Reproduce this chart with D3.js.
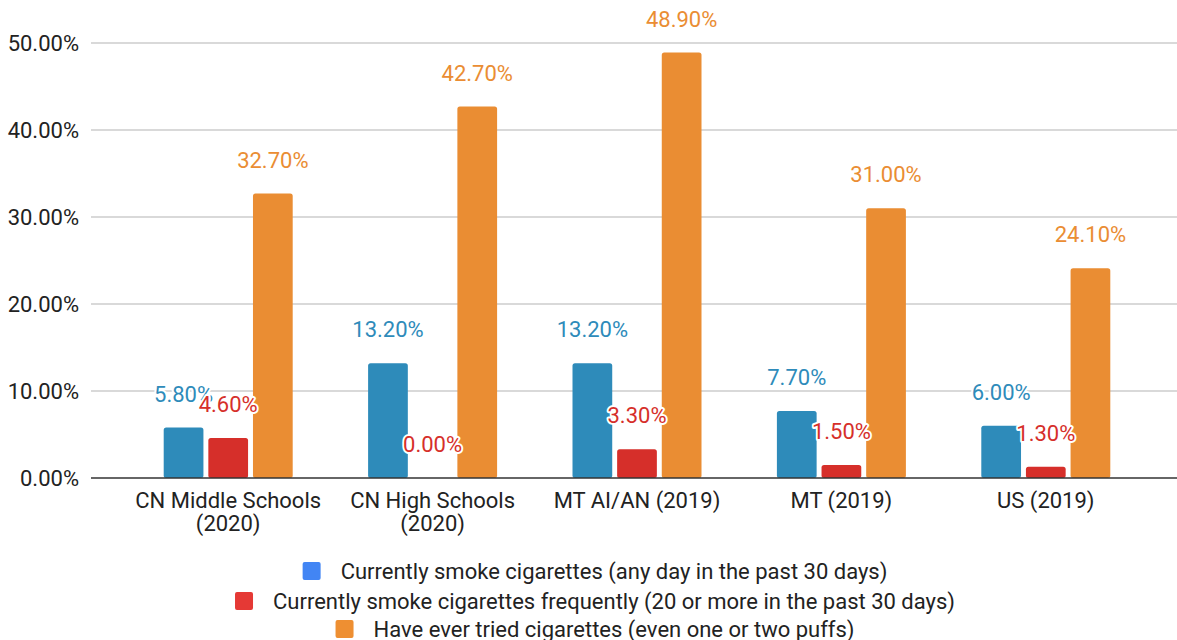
<!DOCTYPE html>
<html>
<head>
<meta charset="utf-8">
<script src="https://cdn.jsdelivr.net/npm/d3@7"></script>
<style>
  html, body { margin: 0; padding: 0; background: #fff; }
  svg { display: block; }
</style>
</head>
<body>
<svg id="chart" width="1177" height="640"></svg>
<script>
// Youth cigarette use by group
const categories = [
  ["CN Middle Schools", "(2020)"],
  ["CN High Schools", "(2020)"],
  ["MT AI/AN (2019)"],
  ["MT (2019)"],
  ["US (2019)"]
];
const seriesNames = [
  "Currently smoke cigarettes (any day in the past 30 days)",
  "Currently smoke cigarettes frequently (20 or more in the past 30 days)",
  "Have ever tried cigarettes (even one or two puffs)"
];
const currentSmoke = [5.8, 13.2, 13.2, 7.7, 6.0];
const frequentSmoke = [4.6, 0.0, 3.3, 1.5, 1.3];
const everTried = [32.7, 42.7, 48.9, 31.0, 24.1];
const yTicks = [0, 10, 20, 30, 40, 50];

const barColors = ["#2e8bba", "#d62f2a", "#ea8d33"];
const legendColors = ["#4285f4", "#e53935", "#ee8f32"];
const series = [currentSmoke, frequentSmoke, everTried];

const FONT = "Roboto, sans-serif";
const svg = d3.select("#chart");
const gridLeft = 91, gridRight = 1177;

const x = d3.scaleBand()
  .domain(d3.range(categories.length))
  .range([126, 1148])
  .paddingInner(0)
  .paddingOuter(0);

const y = d3.scaleLinear().domain([0, 50]).range([478, 43]);

const inner = d3.scaleBand()
  .domain(d3.range(series.length))
  .range([0, 129])
  .paddingInner(0.11);

// gridlines
svg.append("g")
  .selectAll("line")
  .data(yTicks.filter(t => t !== 0))
  .join("line")
  .attr("x1", gridLeft).attr("x2", gridRight)
  .attr("y1", d => y(d)).attr("y2", d => y(d))
  .attr("stroke", "#cccccc").attr("stroke-width", 1.3);

// y axis labels
const yAxis = d3.axisLeft(y).tickValues(yTicks)
  .tickFormat(d => d3.format(".2f")(d) + "%")
  .tickSize(0).tickPadding(0);
const yg = svg.append("g").attr("transform", `translate(79,0)`).call(yAxis);
yg.select(".domain").remove();
yg.selectAll("text")
  .attr("font-family", FONT)
  .attr("font-size", 22).attr("fill", "#222").attr("dy", "0.35em");

// bars
const groups = svg.append("g")
  .selectAll("g")
  .data(categories.map((c, i) => i))
  .join("g")
  .attr("transform", i => `translate(${x(i) + x.bandwidth() / 2 - 64.5},0)`);

groups.each(function(ci) {
  const g = d3.select(this);
  series.forEach((vals, si) => {
    const v = vals[ci];
    if (v > 0) {
      g.append("rect")
        .attr("x", inner(si))
        .attr("y", y(v))
        .attr("width", inner.bandwidth())
        .attr("height", y(0) - y(v))
        .attr("rx", 2.5)
        .attr("fill", barColors[si]);
    }
  });
});

// baseline
svg.append("line")
  .attr("x1", gridLeft).attr("x2", gridRight)
  .attr("y1", y(0)).attr("y2", y(0))
  .attr("stroke", "#333").attr("stroke-width", 1.5);

// value labels (white halo under coloured text)
groups.each(function(ci) {
  const g = d3.select(this);
  series.forEach((vals, si) => {
    const v = vals[ci];
    const cx = inner(si) + inner.bandwidth() / 2;
    const ty = y(v) - 26;
    const label = d3.format(".2f")(v) + "%";
    g.append("text")
      .attr("x", cx).attr("y", ty)
      .attr("text-anchor", "middle")
      .attr("font-family", FONT)
      .attr("font-size", 22)
      .attr("fill", "none")
      .attr("stroke", "#fff").attr("stroke-width", 4)
      .attr("stroke-linejoin", "round")
      .text(label);
    g.append("text")
      .attr("x", cx).attr("y", ty)
      .attr("text-anchor", "middle")
      .attr("font-family", FONT)
      .attr("font-size", 22)
      .attr("fill", barColors[si])
      .text(label);
  });
});

// category labels
const xg = svg.append("g");
categories.forEach((lines, i) => {
  const t = xg.append("text")
    .attr("text-anchor", "middle")
    .attr("font-family", FONT)
    .attr("font-size", 22)
    .attr("fill", "#222");
  lines.forEach((ln, k) => {
    t.append("tspan")
      .attr("x", x(i) + x.bandwidth() / 2)
      .attr("y", 508 + k * 23)
      .text(ln);
  });
});

// legend, one centred row per series
const legendCenter = 595;
const legendRows = [571, 601, 629];
seriesNames.forEach((name, i) => {
  const row = svg.append("g");
  const txt = row.append("text")
    .attr("x", 38).attr("y", legendRows[i])
    .attr("dy", "0.35em")
    .attr("font-family", FONT)
    .attr("font-size", 22)
    .attr("fill", "#222")
    .text(name);
  row.append("rect")
    .attr("x", 0).attr("y", legendRows[i] - 9)
    .attr("width", 18).attr("height", 18)
    .attr("rx", 2)
    .attr("fill", legendColors[i]);
  const w = 38 + txt.node().getComputedTextLength();
  row.attr("transform", `translate(${legendCenter - w / 2},0)`);
});
</script>
</body>
</html>
